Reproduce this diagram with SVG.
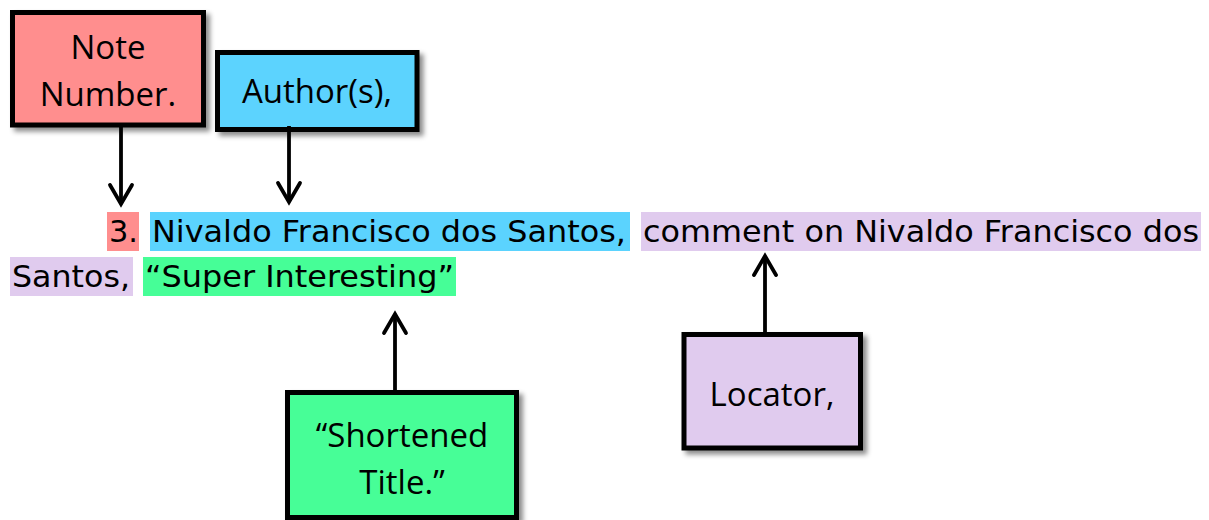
<svg xmlns="http://www.w3.org/2000/svg" width="1209" height="520" viewBox="0 0 1209 520">
  <defs>
    <filter id="shadow" x="-10%" y="-10%" width="130%" height="130%">
      <feDropShadow dx="4" dy="4" stdDeviation="2.5" flood-color="#000" flood-opacity="0.45"/>
    </filter>
    <marker id="arrow" markerUnits="userSpaceOnUse" viewBox="-24 -16 30 32" markerWidth="30" markerHeight="32" refX="0" refY="0" orient="auto" overflow="visible">
      <path d="M-19,-11 L0,0 L-19,11" fill="none" stroke="#000" stroke-width="3.8" stroke-linecap="round" stroke-linejoin="miter"/>
    </marker>
    <style>
      .box { stroke: #000; stroke-width: 5; filter: url(#shadow); }
      .lbl { font-family: "Open Sans", "Noto Sans", "Liberation Sans", sans-serif; font-size: 33px; fill: #000; text-anchor: middle; }
      .body { font-family: "DejaVu Sans", Verdana, sans-serif; font-size: 29.5px; fill: #000; }
      .conn { stroke: #000; stroke-width: 3.8; fill: none; marker-end: url(#arrow); }
      .pink { fill: #FF8E8E; }
      .blue { fill: #5BD3FE; }
      .green { fill: #46FE97; }
      .purple { fill: #E0CBEE; }
    </style>
  </defs>
  <rect width="1209" height="520" fill="#fff"/>

  <g id="citation">
    <rect class="pink" x="107" y="212" width="32" height="39"/>
    <rect class="blue" x="150" y="212" width="480" height="39"/>
    <rect class="purple" x="641" y="212" width="560" height="39"/>
    <rect class="purple" x="10" y="257" width="123" height="39"/>
    <rect class="green" x="143" y="257" width="313" height="39"/>
    <text class="body" x="109" y="242" textLength="29" lengthAdjust="spacingAndGlyphs">3.</text>
    <text class="body" x="152" y="242" textLength="474" lengthAdjust="spacingAndGlyphs">Nivaldo Francisco dos Santos,</text>
    <text class="body" x="643" y="242" textLength="556" lengthAdjust="spacingAndGlyphs">comment on Nivaldo Francisco dos</text>
    <text class="body" x="12" y="287" textLength="118" lengthAdjust="spacingAndGlyphs">Santos,</text>
    <text class="body" x="145" y="287" textLength="309" lengthAdjust="spacingAndGlyphs">“Super Interesting”</text>
  </g>

  <g id="note-number">
    <rect class="box pink" x="12.5" y="12.5" width="191" height="112.5"/>
    <text class="lbl" x="108" y="59">Note</text>
    <text class="lbl" x="108" y="106">Number.</text>
  </g>

  <g id="authors">
    <rect class="box blue" x="217.5" y="52.5" width="199.5" height="77"/>
    <text class="lbl" x="317" y="103">Author(s),</text>
  </g>

  <g id="shortened-title">
    <rect class="box green" x="287.5" y="392.5" width="229" height="125"/>
    <text class="lbl" x="402" y="447">“Shortened</text>
    <text class="lbl" x="402" y="493.5">Title.”</text>
  </g>

  <g id="locator">
    <rect class="box purple" x="684" y="334.5" width="176.5" height="113.5"/>
    <text class="lbl" x="772" y="405.5">Locator,</text>
  </g>

  <g id="connectors">
    <line class="conn" x1="121" y1="127" x2="121" y2="204"/>
    <line class="conn" x1="289" y1="126" x2="289" y2="202"/>
    <line class="conn" x1="395" y1="390" x2="395" y2="314"/>
    <line class="conn" x1="765" y1="332" x2="765" y2="256"/>
  </g>
</svg>
